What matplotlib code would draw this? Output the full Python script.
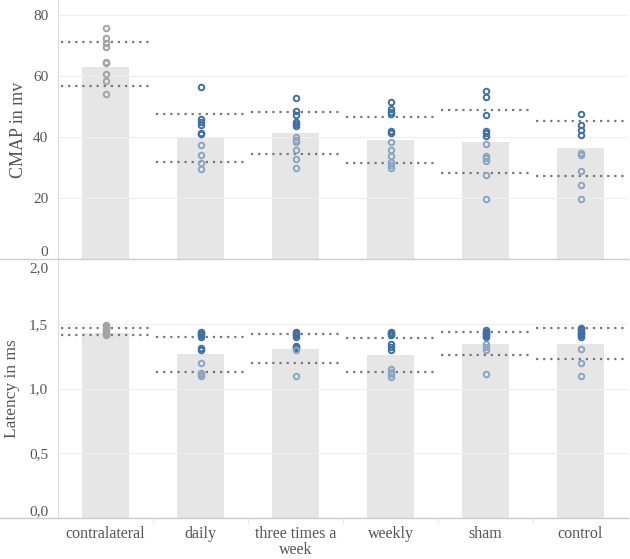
import matplotlib.pyplot as plt
from matplotlib.lines import Line2D
from matplotlib.transforms import ScaledTranslation

groups = ["contralateral", "daily", "three times a\nweek", "weekly", "sham", "control"]

# CMAP in mV
cmap_mean = [63.0, 39.9, 41.3, 39.0, 38.4, 36.4]
cmap_hi = [71.3, 47.6, 48.1, 46.7, 48.8, 45.3]
cmap_lo = [56.8, 31.8, 34.5, 31.6, 28.3, 27.3]
cmap_pts = [
    [75.7, 72.6, 71.0, 69.5, 64.5, 64.3, 60.7, 58.4, 54.3],
    [56.3, 46.1, 44.9, 43.9, 41.2, 40.9, 37.5, 34.1, 31.4, 29.7],
    [52.7, 48.5, 47.1, 44.9, 44.4, 43.8, 39.9, 39.0, 38.3, 35.7, 32.8, 29.9],
    [51.5, 49.2, 48.4, 47.6, 42.0, 41.5, 38.4, 35.7, 33.8, 31.7, 30.7, 29.8],
    [55.1, 53.3, 47.2, 42.1, 41.2, 40.4, 37.9, 33.9, 33.0, 32.0, 27.5, 19.6],
    [47.5, 43.9, 42.5, 40.8, 34.9, 34.1, 28.9, 24.3, 19.6],
]

# latency in ms
lat_mean = [1.425, 1.267, 1.305, 1.256, 1.345, 1.345]
lat_hi = [1.465, 1.40, 1.42, 1.39, 1.44, 1.47]
lat_lo = [1.41, 1.125, 1.20, 1.13, 1.26, 1.23]
lat_pts = [
    [1.49, 1.48, 1.47, 1.46, 1.45, 1.44, 1.43, 1.42, 1.41],
    [1.44, 1.43, 1.42, 1.41, 1.40, 1.31, 1.30, 1.20, 1.12, 1.11, 1.10],
    [1.44, 1.43, 1.42, 1.41, 1.40, 1.33, 1.32, 1.31, 1.30, 1.10],
    [1.44, 1.43, 1.42, 1.41, 1.34, 1.32, 1.30, 1.15, 1.13, 1.11, 1.09],
    [1.45, 1.44, 1.43, 1.42, 1.41, 1.40, 1.34, 1.32, 1.30, 1.115],
    [1.47, 1.46, 1.45, 1.44, 1.43, 1.42, 1.41, 1.40, 1.305, 1.20, 1.10],
]

bar_col = "#e6e6e6"
dark = "#3f6fa3"
light = "#8aa4c2"
gray_pt = "#a3a3a3"
txt = "#555555"
serif = ["Liberation Serif", "DejaVu Serif"]

fig = plt.figure(figsize=(6.3, 5.59), dpi=100)
ax1 = fig.add_axes([58 / 630, 1 - 259 / 559, 570 / 630, 259 / 559])
ax2 = fig.add_axes([58 / 630, 1 - 518 / 559, 570 / 630, 259 / 559])


def panel(ax, means, his, los, pts):
    x = range(len(groups))
    ax.bar(x, means, width=0.5, color=bar_col, zorder=1)
    for i in x:
        ax.hlines([his[i], los[i]], i - 0.47, i + 0.47, colors="#777777",
                  linestyles=(0, (1, 2.2)), linewidth=1.6, zorder=3)
        for v in pts[i]:
            if i == 0:
                c = gray_pt
            else:
                c = dark if v > means[i] else light
            ax.plot(i, v, "o", ms=4, mfc="none", mec=c, mew=1.4, zorder=4)
    ax.set_xlim(-0.5, len(groups) - 0.5)
    ax.grid(axis="y", color="#efefef", linewidth=0.8, zorder=0)
    for s in ["top", "right", "bottom"]:
        ax.spines[s].set_visible(False)
    ax.spines["left"].set_color("#dddddd")
    ax.tick_params(axis="y", length=0, pad=7, labelsize=11, labelcolor=txt)


panel(ax1, cmap_mean, cmap_hi, cmap_lo, cmap_pts)
ax1.set_ylim(0, 85)
ax1.set_yticks([0, 20, 40, 60, 80])
ax1.set_yticklabels(["0", "20", "40", "60", "80"], family=serif)
ax1.get_yticklabels()[0].set_va("bottom")
ax1.set_xticks([])
ax1.set_ylabel("CMAP in mv", family=serif, fontsize=13, color=txt)
ax1.yaxis.label.set_va("center")
ax1.yaxis.set_label_coords(-0.070, 0.5)

panel(ax2, lat_mean, lat_hi, lat_lo, lat_pts)
ax2.set_ylim(0, 2.0)
ax2.set_yticks([0, 0.5, 1.0, 1.5, 2.0])
ax2.set_yticklabels(["0,0", "0,5", "1,0", "1,5", "2,0"], family=serif)
ax2.get_yticklabels()[0].set_va("bottom")
top_lab = ax2.get_yticklabels()[-1]
top_lab.set_va("top")
top_lab.set_transform(top_lab.get_transform() +
                      ScaledTranslation(0, -3 / 100, fig.dpi_scale_trans))
ax2.set_xticks(range(len(groups)))
ax2.set_xticklabels(groups, family=serif, fontsize=11.5, color=txt, linespacing=1.0)
ax2.tick_params(axis="x", length=0, pad=6)
ax2.set_xticks([0.5, 1.5, 2.5, 3.5, 4.5], minor=True)
ax2.tick_params(axis="x", which="minor", length=4, color="#e6e6e6")
ax2.set_ylabel("Latency in ms", family=serif, fontsize=12.5, color=txt)
ax2.yaxis.label.set_va("center")
ax2.yaxis.set_label_coords(-0.080, 0.5)

# full-width separator lines under each panel
for yy in [1 - 259 / 559, 1 - 518 / 559]:
    fig.add_artist(Line2D([0, 628 / 630], [yy, yy], transform=fig.transFigure,
                          color="#cccccc", linewidth=1.0))

fig.savefig("out.png", dpi=100)
